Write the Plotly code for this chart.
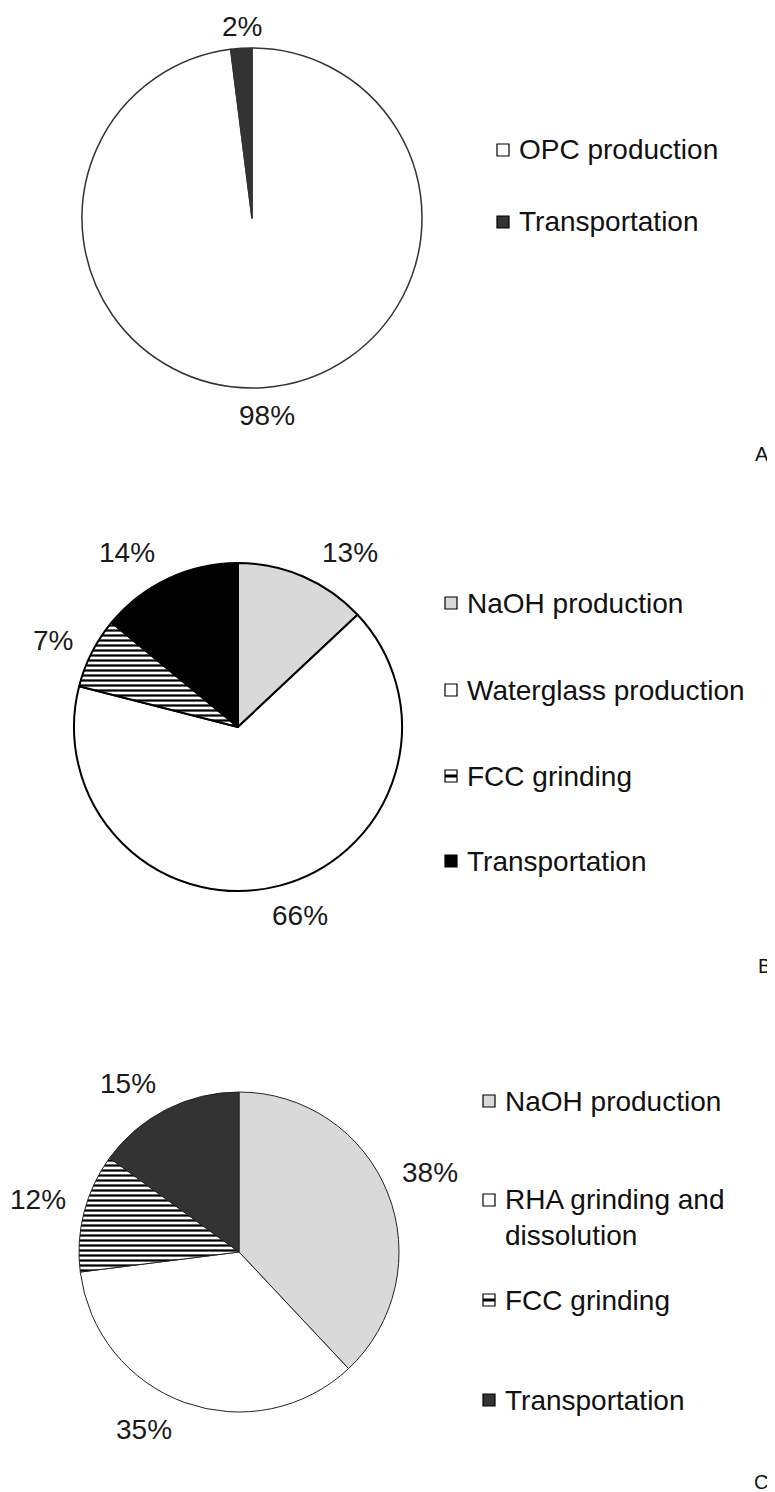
import plotly.graph_objects as go

W, H = 775, 1492
OX, OY = 8, 8  # page body margin offset of the rendered html

# ---- data ----
a_labels = ["OPC production", "Transportation"]
a_values = [98, 2]
a_colors = ["#ffffff", "#333333"]

b_labels = ["NaOH production", "Waterglass production", "FCC grinding", "Transportation"]
b_values = [13, 66, 7, 14]
b_colors = ["#d9d9d9", "#ffffff", "#ffffff", "#000000"]

c_labels = ["NaOH production", "RHA grinding and<br>dissolution", "FCC grinding", "Transportation"]
c_values = [38, 35, 12, 15]
c_colors = ["#d9d9d9", "#ffffff", "#ffffff", "#333333"]

panel_letters = ["A", "B", "C"]

# ---- layout (pixel positions) ----
a_label_pos = [(267, 415), (242, 27)]
b_label_pos = [(350, 552), (300, 916), (53, 640), (127, 552)]
c_label_pos = [(430, 1172), (144, 1429), (38, 1199), (128, 1083)]

FONT = "Liberation Sans, Arial, sans-serif"
FS = 28


def X(x):
    return (x - OX) / W


def Y(y):
    return 1 - (y - OY) / H


def px_dom(cx, cy, r):
    return dict(x=[X(cx - r), X(cx + r)], y=[Y(cy + r), Y(cy - r)])


def pie(labels, values, colors, dom, lw, lc, hatch_idx=None):
    shapes = [""] * len(values)
    if hatch_idx is not None:
        shapes[hatch_idx] = "-"
    return go.Pie(
        labels=labels, values=values, sort=False, direction="clockwise", rotation=0,
        domain=dom,
        marker=dict(colors=colors, line=dict(color=lc, width=lw),
                    pattern=dict(shape=shapes, fgcolor="#000000", bgcolor=colors,
                                 size=5, solidity=0.45, fillmode="replace")),
        textinfo="none",
        showlegend=False, hoverinfo="label+value",
    )


fig = go.Figure()
fig.add_trace(pie(a_labels, a_values, a_colors, px_dom(252, 218, 170), 1.5, "#333333"))
fig.add_trace(pie(b_labels, b_values, b_colors, px_dom(238, 727, 164), 2, "#000000", hatch_idx=2))
fig.add_trace(pie(c_labels, c_values, c_colors, px_dom(239, 1252, 160), 1, "#222222", hatch_idx=2))

shapes = []
annotations = []


def pct_labels(values, positions):
    for v, (x, y) in zip(values, positions):
        annotations.append(dict(text=f"{v}%", xref="paper", yref="paper", x=X(x), y=Y(y),
                                xanchor="center", yanchor="middle", showarrow=False,
                                font=dict(family=FONT, size=FS, color="#1a1a1a")))


def legend(labels, colors, box_x, ys, hatch_idx=None):
    for i, (lab, col, y) in enumerate(zip(labels, colors, ys)):
        shapes.append(dict(type="rect", xref="paper", yref="paper",
                           x0=X(box_x), x1=X(box_x + 12),
                           y0=Y(y + 6), y1=Y(y - 6),
                           fillcolor=col, line=dict(color="#000000", width=1.2)))
        if i == hatch_idx:
            shapes.append(dict(type="line", xref="paper", yref="paper",
                               x0=X(box_x), x1=X(box_x + 12),
                               y0=Y(y), y1=Y(y),
                               line=dict(color="#000000", width=3)))
        multi = "<br>" in lab
        annotations.append(dict(text=lab, xref="paper", yref="paper",
                                x=X(box_x + 20), y=Y(y),
                                xanchor="left", yanchor="top" if multi else "middle",
                                yshift=18 if multi else 0,
                                align="left", showarrow=False,
                                font=dict(family=FONT, size=FS, color="#111111")))


pct_labels(a_values, a_label_pos)
pct_labels(b_values, b_label_pos)
pct_labels(c_values, c_label_pos)

legend(a_labels, a_colors, 497, [150, 222])
legend(b_labels, b_colors, 445, [603, 690, 776, 861], hatch_idx=2)
legend(c_labels, c_colors, 483, [1101, 1200, 1300, 1400], hatch_idx=2)

for letter, (x, y) in zip(panel_letters, [(762, 454), (764, 966), (761, 1482)]):
    annotations.append(dict(text=letter, xref="paper", yref="paper", x=X(x), y=Y(y),
                            xanchor="center", yanchor="middle", showarrow=False,
                            font=dict(family=FONT, size=20, color="#111111")))

fig.update_layout(width=W, height=H, margin=dict(l=0, r=0, t=0, b=0),
                  paper_bgcolor="#ffffff", plot_bgcolor="#ffffff",
                  shapes=shapes, annotations=annotations, showlegend=False)

fig.write_html("out.html")
